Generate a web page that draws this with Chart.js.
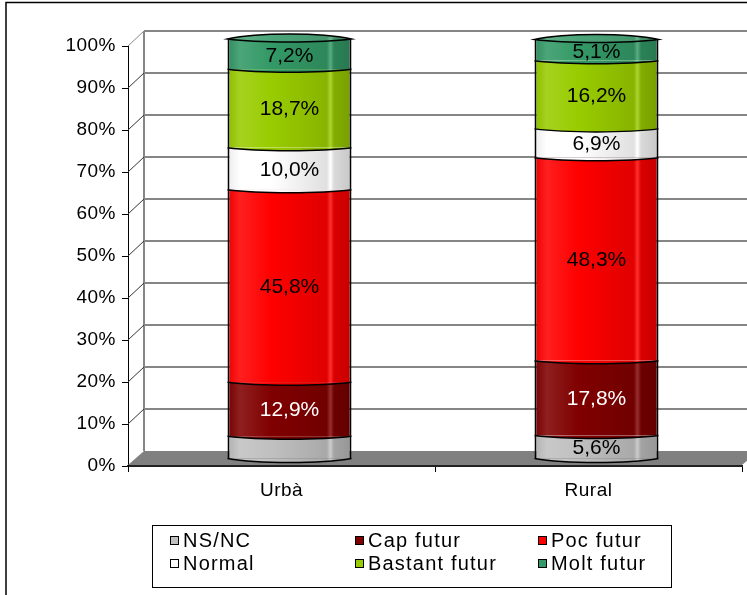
<!DOCTYPE html>
<html>
<head>
<meta charset="utf-8">
<script src="https://cdn.jsdelivr.net/npm/chart.js@4.4.0/dist/chart.umd.min.js"></script>
<style>
    html, body { margin: 0; padding: 0; background: #fff; }
    #chart { display: block; }
</style>
</head>
<body>
<canvas id="chart" width="747" height="595"></canvas>
<script>
// Dades del gràfic
const categories = ['Urbà', 'Rural'];
const seriesNames = ['NS/NC', 'Cap futur', 'Poc futur', 'Normal', 'Bastant futur', 'Molt futur'];
const nsnc = [5.4, 5.6];
const capFutur = [12.9, 17.8];
const pocFutur = [45.8, 48.3];
const normal = [10.0, 6.9];
const bastantFutur = [18.7, 16.2];
const moltFutur = [7.2, 5.1];
const nsncShowLabel = [false, true];
const yTickValues = [0, 10, 20, 30, 40, 50, 60, 70, 80, 90, 100];

const seriesColors = ['#C0C0C0', '#800000', '#FF0000', '#FFFFFF', '#99CC00', '#339966'];
const labelColors = ['#000', '#fff', '#000', '#000', '#000', '#000'];

const FONT = '"Liberation Sans", Arial, sans-serif';
const barShare = 0.404;
const depth = { dx: 16, dy: -15 };
const barShift = { dx: 8, dy: -7 };

// Aclarir / enfosquir un color
function shade(hex, amt) {
    const n = parseInt(hex.slice(1), 16);
    let r = n >> 16, g = (n >> 8) & 255, b = n & 255;
    const t = amt < 0 ? 0 : 255, p = Math.abs(amt);
    r = Math.round((t - r) * p + r);
    g = Math.round((t - g) * p + g);
    b = Math.round((t - b) * p + b);
    return `rgb(${r},${g},${b})`;
}

// Degradat horitzontal per simular el cilindre
function cylinderFill(color) {
    return function(context) {
        const chart = context.chart;
        const xs = chart.scales.x;
        if (!xs || !chart.chartArea || context.dataIndex === undefined) return color;
        const cx = xs.getPixelForValue(context.dataIndex);
        const half = (xs.width / categories.length) * barShare / 2;
        const g = chart.ctx.createLinearGradient(cx - half, 0, cx + half, 0);
        g.addColorStop(0, shade(color, -0.08));
        g.addColorStop(0.1, shade(color, 0.12));
        g.addColorStop(0.35, color);
        g.addColorStop(0.8, shade(color, -0.12));
        g.addColorStop(0.83, shade(color, 0.18));
        g.addColorStop(0.86, shade(color, -0.15));
        g.addColorStop(1, shade(color, -0.22));
        return g;
    };
}

const seriesValues = [nsnc, capFutur, pocFutur, normal, bastantFutur, moltFutur];

function wave(ctx, l, r, y, d) {
    const w = r - l;
    ctx.bezierCurveTo(l + w * 0.25, y + d * 4 / 3, r - w * 0.25, y + d * 4 / 3, r, y);
}

// Paret, terra i reixeta en 3D
const wallPlugin = {
    id: 'wall3d',
    beforeLayout(chart) {
        chart.ctx.letterSpacing = '0.5px';
    },
    beforeDraw(chart) {
        chart.ctx.letterSpacing = '0.5px';
    },
    beforeDatasetsDraw(chart) {
        const { ctx, chartArea: a, scales: { y } } = chart;
        ctx.save();
        // terra
        ctx.fillStyle = '#808080';
        ctx.beginPath();
        ctx.moveTo(a.left, a.bottom - 1);
        ctx.lineTo(a.right, a.bottom - 1);
        ctx.lineTo(a.right + depth.dx, a.bottom + depth.dy);
        ctx.lineTo(a.left + depth.dx, a.bottom + depth.dy);
        ctx.closePath();
        ctx.fill();
        // paret del fons
        ctx.strokeStyle = '#868686';
        ctx.lineWidth = 2;
        ctx.beginPath();
        ctx.moveTo(a.left + depth.dx, a.top + depth.dy);
        ctx.lineTo(a.left + depth.dx, a.bottom + depth.dy);
        ctx.stroke();
        yTickValues.forEach(v => {
            if (v === 0) return;
            const py = y.getPixelForValue(v);
            ctx.strokeStyle = '#868686';
            ctx.lineWidth = 2;
            ctx.beginPath();
            ctx.moveTo(a.left + depth.dx, py + depth.dy);
            ctx.lineTo(chart.width, py + depth.dy);
            ctx.stroke();
            ctx.strokeStyle = v === 100 ? '#868686' : '#333';
            ctx.lineWidth = 1;
            ctx.beginPath();
            ctx.moveTo(a.left, py);
            ctx.lineTo(a.left + depth.dx, py + depth.dy);
            ctx.stroke();
        });
        ctx.restore();
        ctx.save();
        ctx.translate(barShift.dx, barShift.dy);
    },
    afterDatasetsDraw(chart) {
        const ctx = chart.ctx;
        const metas = chart.data.datasets.map((d, i) => chart.getDatasetMeta(i));
        categories.forEach((cat, j) => {
            metas.forEach((meta, i) => {
                const el = meta.data[j];
                const l = el.x - el.width / 2, r = el.x + el.width / 2;
                ctx.lineWidth = 1.5;
                ctx.strokeStyle = '#000';
                if (i === 0) {
                    // base del cilindre
                    ctx.beginPath();
                    ctx.moveTo(l, el.base);
                    wave(ctx, l, r, el.base, 4);
                    ctx.closePath();
                    ctx.fillStyle = el.options.backgroundColor;
                    ctx.fill();
                    ctx.beginPath();
                    ctx.moveTo(l, el.base);
                    wave(ctx, l, r, el.base, 4);
                    ctx.stroke();
                }
                if (i < metas.length - 1) {
                    const up = metas[i + 1].data[j];
                    ctx.beginPath();
                    ctx.moveTo(l, el.y);
                    wave(ctx, l, r, el.y, 3);
                    ctx.closePath();
                    ctx.fillStyle = up.options.backgroundColor;
                    ctx.fill();
                    ctx.beginPath();
                    ctx.moveTo(l, el.y);
                    wave(ctx, l, r, el.y, 3);
                    ctx.stroke();
                } else {
                    // tapa superior
                    ctx.beginPath();
                    ctx.moveTo(l, el.y);
                    wave(ctx, l, r, el.y, -5);
                    ctx.lineTo(r, el.y);
                    wave(ctx, r, l, el.y, 3);
                    ctx.closePath();
                    ctx.fillStyle = el.options.backgroundColor;
                    ctx.fill();
                    ctx.fillStyle = 'rgba(255,255,255,0.12)';
                    ctx.fill();
                    ctx.stroke();
                }
            });
            // etiquetes de valor
            metas.forEach((meta, i) => {
                if (i === 0 && !nsncShowLabel[j]) return;
                const el = meta.data[j];
                const v = seriesValues[i][j];
                ctx.save();
                ctx.letterSpacing = '0px';
                ctx.font = '21px ' + FONT;
                ctx.fillStyle = labelColors[i];
                ctx.textAlign = 'center';
                ctx.textBaseline = 'middle';
                const cy = (el.y + el.base) / 2 + (i === metas.length - 1 ? 2 : 1);
                ctx.fillText(v.toFixed(1).replace('.', ',') + '%', el.x, cy);
                ctx.restore();
            });
        });
        ctx.restore();
    },
    afterDraw(chart) {
        const ctx = chart.ctx;
        ctx.save();
        // marc exterior
        ctx.strokeStyle = '#000';
        ctx.lineWidth = 1.5;
        ctx.beginPath();
        ctx.moveTo(6, chart.height + 2);
        ctx.lineTo(6, 2.5);
        ctx.lineTo(chart.width + 2, 2.5);
        ctx.stroke();
        // llegenda
        ctx.lineWidth = 1;
        ctx.strokeRect(152.5, 525.5, 519, 62);
        const cols = [170, 355, 538];
        const rows = [540, 563];
        ctx.font = '20px ' + FONT;
        ctx.letterSpacing = '1.2px';
        ctx.textBaseline = 'middle';
        chart.data.datasets.forEach((ds, i) => {
            const x = cols[i % 3], y = rows[Math.floor(i / 3)];
            ctx.fillStyle = seriesColors[i];
            ctx.fillRect(x, y - 4, 9, 9);
            ctx.strokeStyle = '#000';
            ctx.strokeRect(x + 0.5, y - 3.5, 8, 8);
            ctx.fillStyle = '#000';
            ctx.fillText(ds.label, x + 13, y + 1);
        });
        ctx.restore();
    }
};

const datasets = seriesNames.map((name, i) => ({
    label: name,
    data: seriesValues[i],
    backgroundColor: cylinderFill(seriesColors[i]),
    borderColor: '#000',
    borderWidth: { left: 2, right: 2, top: 0, bottom: 0 },
    borderSkipped: false,
    barPercentage: barShare,
    categoryPercentage: 1,
    clip: false
}));

new Chart(document.getElementById('chart'), {
    type: 'bar',
    data: { labels: categories, datasets: datasets },
    options: {
        responsive: false,
        animation: false,
        layout: { padding: { top: 46, right: 5, bottom: 89, left: 0 } },
        plugins: {
            legend: { display: false },
            tooltip: { enabled: false }
        },
        scales: {
            x: {
                stacked: true,
                afterFit(scale) { scale.height = 40; },
                grid: { offset: true, drawOnChartArea: false, tickLength: 6, color: '#000' },
                border: { display: true, color: '#222', width: 2 },
                ticks: { color: '#000', padding: 7, font: { family: FONT, size: 19 } }
            },
            y: {
                stacked: true,
                min: 0,
                max: 100,
                afterFit(scale) { scale.width = 128; },
                afterBuildTicks(scale) { scale.ticks = yTickValues.map(v => ({ value: v })); },
                grid: { drawOnChartArea: false, tickLength: 6, color: '#000' },
                border: { display: true, color: '#000', width: 1 },
                ticks: {
                    color: '#000',
                    padding: 6,
                    font: { family: FONT, size: 19 },
                    callback: v => v + '%'
                }
            }
        }
    },
    plugins: [wallPlugin]
});
</script>
</body>
</html>
